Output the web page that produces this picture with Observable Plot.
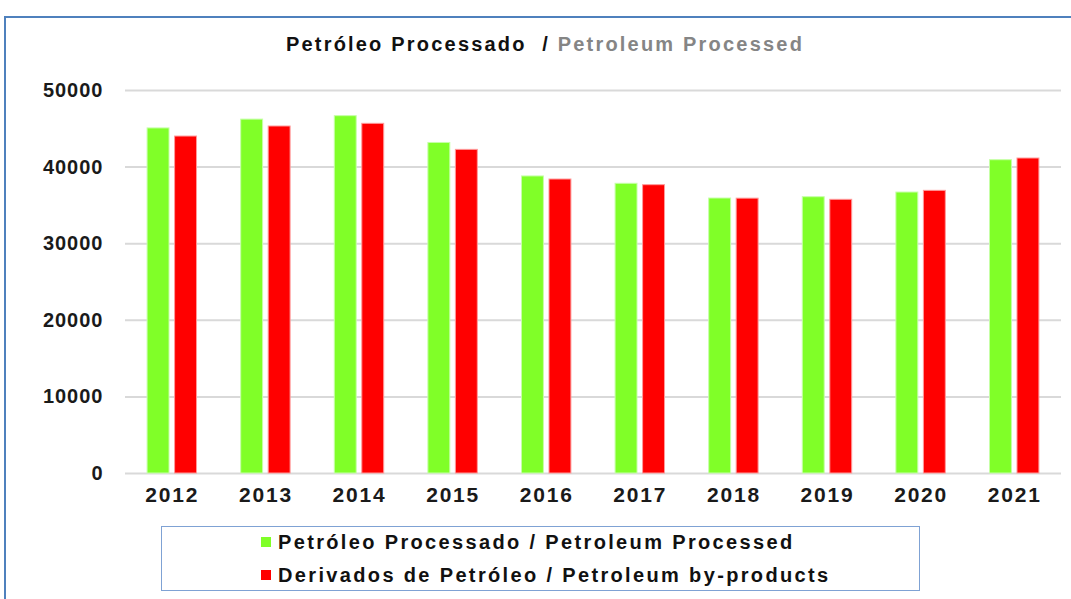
<!DOCTYPE html>
<html>
<head>
<meta charset="utf-8">
<script src="https://cdn.jsdelivr.net/npm/d3@7"></script>
<script src="https://cdn.jsdelivr.net/npm/@observablehq/plot@0.6"></script>
<style>
  html, body { margin: 0; padding: 0; background: #fff; }
  #wrap { position: relative; width: 1071px; height: 599px; overflow: hidden; background: #fff;
          font-family: "Liberation Sans", Arial, sans-serif; }
  #frame { position: absolute; left: 4px; top: 16px; width: 1200px; height: 800px;
           border-top: 2px solid #4f81bd; border-left: 2px solid #4f81bd; }
  #title { position: absolute; left: 0; top: 32px; width: 1090px; text-align: center;
           font-size: 20px; font-weight: bold; letter-spacing: 2.2px; line-height: 24px; white-space: pre; }
  #title .pt { color: #111; }
  #title .en { color: #858585; }
  #chart { position: absolute; left: 0; top: 60px; }
  #legendBox { position: absolute; left: 161px; top: 526px; width: 757px; height: 63px;
               border: 1.5px solid #7fa2d4; }
  .lrow { position: absolute; left: 261px; height: 24px; line-height: 24px; white-space: nowrap;
          font-size: 20px; font-weight: bold; letter-spacing: 2.35px; color: #111; }
  .lrow .sw { position: absolute; left: 0; top: 7px; width: 10px; height: 10px; }
  .lrow .tx { position: absolute; left: 17px; top: 0; }
  #chart svg [aria-label="y-axis tick label"] text { letter-spacing: 1px; }
  #chart svg [aria-label="x-axis tick label"] text { letter-spacing: 1.8px; }
</style>
</head>
<body>
<div id="wrap">
  <div id="frame"></div>
  <div id="title"></div>
  <div id="chart"></div>
  <div id="legendBox"></div>
</div>
<script>
// ---- data ----
const years = ["2012", "2013", "2014", "2015", "2016", "2017", "2018", "2019", "2020", "2021"];
const processed = [45050, 46200, 46650, 43150, 38780, 37820, 35900, 36070, 36680, 40900];
const byproducts = [43990, 45300, 45650, 42250, 38380, 37640, 35880, 35730, 36900, 41120];
const yTicks = [0, 10000, 20000, 30000, 40000, 50000];
const titlePt = "Petróleo Processado  / ";
const titleEn = "Petroleum Processed";
const seriesNames = ["Petróleo Processado / Petroleum Processed", "Derivados de Petróleo / Petroleum by-products"];
const seriesColors = ["#80ff28", "#ff0000"];
const seriesEdges = ["#c6ffa8", "#ff9a9a"];

const rows = years.map((year, i) => ({year, processed: processed[i], byproducts: byproducts[i]}));

// ---- title ----
const title = document.getElementById("title");
const s1 = document.createElement("span"); s1.className = "pt"; s1.textContent = titlePt;
const s2 = document.createElement("span"); s2.className = "en"; s2.textContent = titleEn;
title.append(s1, s2);

// ---- chart ----
const inset = 27.5;
const chart = Plot.plot({
  width: 1071,
  height: 460,
  marginTop: 30,
  marginBottom: 47,
  marginLeft: 125,
  marginRight: 10,
  style: {color: "#1a1a1a", fontFamily: "'Liberation Sans', Arial, sans-serif", background: "transparent"},
  x: {domain: years, paddingInner: 0.472, paddingOuter: 0.236, round: false, axis: null},
  y: {domain: [0, 50000], axis: null},
  marks: [
    Plot.ruleY(yTicks, {stroke: "#d9d9d9", strokeWidth: 2}),
    Plot.barY(rows, {x: "year", y: "processed", fill: seriesColors[0], stroke: seriesEdges[0], strokeWidth: 1, insetRight: inset}),
    Plot.barY(rows, {x: "year", y: "byproducts", fill: seriesColors[1], stroke: seriesEdges[1], strokeWidth: 1, insetLeft: inset}),
    Plot.axisY(yTicks, {tickSize: 0, tickPadding: 22, tickFormat: d => String(d), fontSize: 20, fontWeight: "bold", label: null}),
    Plot.axisX({tickSize: 0, tickPadding: 14, fontSize: 21, fontWeight: "bold", label: null})
  ]
});
document.getElementById("chart").append(chart);

// ---- legend ----
const wrap = document.getElementById("wrap");
const rowTops = [530, 563];
seriesNames.forEach((name, i) => {
  const r = document.createElement("div");
  r.className = "lrow";
  r.style.top = rowTops[i] + "px";
  const sw = document.createElement("span"); sw.className = "sw"; sw.style.background = seriesColors[i];
  const tx = document.createElement("span"); tx.className = "tx"; tx.textContent = name;
  r.append(sw, tx);
  wrap.append(r);
});
</script>
</body>
</html>
